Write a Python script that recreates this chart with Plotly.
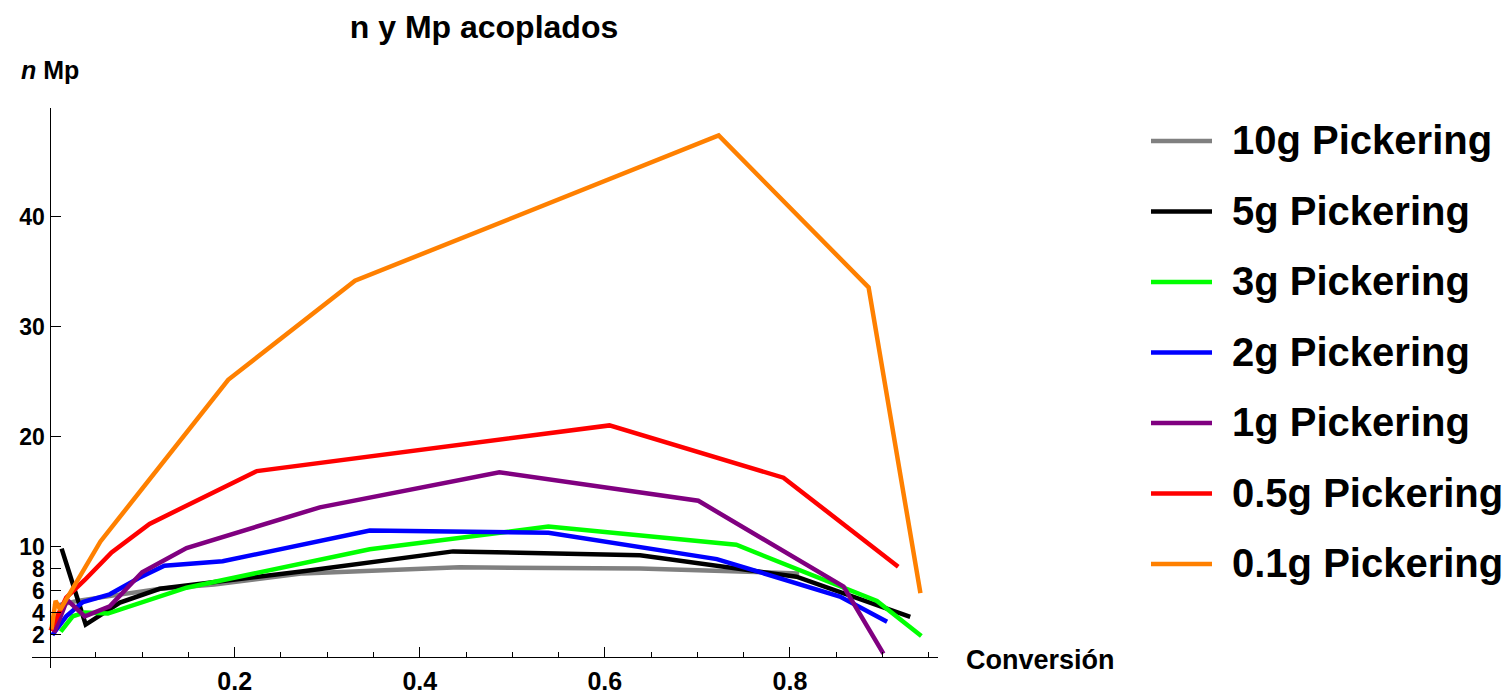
import plotly.graph_objects as go

# ---------------- data ----------------
conv_10g = [0.004, 0.030, 0.070, 0.120, 0.178, 0.274, 0.443, 0.638, 0.810]
nmp_10g = [4.6, 5.1, 5.6, 6.2, 6.6, 7.6, 8.15, 8.05, 7.6]

conv_5g = [0.013, 0.039, 0.076, 0.119, 0.274, 0.436, 0.638, 0.807, 0.930]
nmp_5g = [9.85, 2.95, 4.95, 6.2, 7.8, 9.6, 9.25, 7.3, 3.65]

conv_3g = [0.012, 0.025, 0.038, 0.063, 0.148, 0.346, 0.539, 0.742, 0.894, 0.942]
nmp_3g = [2.3, 3.7, 4.05, 3.95, 6.3, 9.8, 11.85, 10.2, 5.1, 1.9]

conv_2g = [0.003, 0.018, 0.036, 0.065, 0.097, 0.124, 0.187, 0.346, 0.539, 0.721, 0.854, 0.905]
nmp_2g = [2.0, 3.7, 5.0, 5.7, 7.2, 8.3, 8.7, 11.5, 11.3, 8.9, 5.5, 3.2]

conv_1g = [0.005, 0.019, 0.038, 0.065, 0.100, 0.148, 0.292, 0.486, 0.701, 0.858, 0.901]
nmp_1g = [2.2, 5.2, 3.7, 4.6, 7.7, 9.9, 13.6, 16.8, 14.2, 6.4, 0.3]

conv_05g = [0.001, 0.018, 0.038, 0.067, 0.108, 0.224, 0.605, 0.793, 0.917]
nmp_05g = [2.4, 5.4, 7.0, 9.5, 12.1, 16.9, 21.05, 16.3, 8.2]

conv_01g = [0.002, 0.0065, 0.0115, 0.055, 0.193, 0.330, 0.723, 0.885, 0.941]
nmp_01g = [2.5, 5.1, 4.3, 10.5, 25.2, 34.2, 47.4, 33.6, 5.8]

series_names = ["10g Pickering", "5g Pickering", "3g Pickering", "2g Pickering",
                "1g Pickering", "0.5g Pickering", "0.1g Pickering"]
series_x = [conv_10g, conv_5g, conv_3g, conv_2g, conv_1g, conv_05g, conv_01g]
series_y = [nmp_10g, nmp_5g, nmp_3g, nmp_2g, nmp_1g, nmp_05g, nmp_01g]
colors = ["#808080", "#000000", "#00FF00", "#0000FF", "#800080", "#FF0000", "#FF8000"]

x_tick_vals = [0.2, 0.4, 0.6, 0.8]
x_tick_text = ["0.2", "0.4", "0.6", "0.8"]
x_minor_vals = [0.05, 0.1, 0.15, 0.25, 0.3, 0.35, 0.45, 0.5, 0.55, 0.65, 0.7, 0.75, 0.85, 0.9, 0.95]
y_tick_vals = [2, 4, 6, 8, 10, 20, 30, 40]
y_tick_text = ["2", "4", "6", "8", "10", "20", "30", "40"]

# ---------------- layout geometry ----------------
W, H = 1506, 696
ML, MR, MT, MB = 32, 568, 108, 28
PW, PH = W - ML - MR, H - MT - MB
X_RANGE = [-0.019, 0.96]
Y_RANGE = [-1.0, 49.9]
FONT = "Liberation Sans, Arial, sans-serif"


def fx(px):
    return (px - ML) / PW


def fy(py):
    return (H - MB - py) / PH


fig = go.Figure()
for xs, ys, name, col in zip(series_x, series_y, series_names, colors):
    fig.add_trace(go.Scatter(x=xs, y=ys, mode="lines", name=name,
                             line=dict(color=col, width=4.5), showlegend=False))

axis_common = dict(showgrid=False, zeroline=False, showline=True, linecolor="black",
                   linewidth=1.3, ticks="inside", ticklen=10, tickwidth=1.3,
                   tickcolor="black", automargin=False)

fig.update_layout(
    width=W, height=H, template="none",
    paper_bgcolor="white", plot_bgcolor="white",
    margin=dict(l=ML, r=MR, t=MT, b=MB, pad=0),
    showlegend=False,
    title=dict(text="n y Mp acoplados", x=484 / W, xref="container", xanchor="center",
               y=1 - 27 / H, yref="container", yanchor="middle",
               font=dict(family=FONT, size=32, color="black", weight="bold")),
    xaxis=dict(range=X_RANGE, anchor="free",
               position=(0 - Y_RANGE[0]) / (Y_RANGE[1] - Y_RANGE[0]),
               tickmode="array", tickvals=x_tick_vals, ticktext=x_tick_text,
               ticklabelstandoff=2,
               tickfont=dict(family=FONT, size=25, color="black", weight="bold"),
               minor=dict(tickmode="array", tickvals=x_minor_vals, ticks="inside",
                          ticklen=5, tickwidth=1.3, tickcolor="black", showgrid=False),
               **axis_common),
    yaxis=dict(range=Y_RANGE, anchor="free",
               position=(0 - X_RANGE[0]) / (X_RANGE[1] - X_RANGE[0]),
               tickmode="array", tickvals=y_tick_vals, ticktext=y_tick_text,
               tickfont=dict(family=FONT, size=23, color="black", weight="bold"),
               **axis_common),
)

annotations = [
    dict(text="<i>n</i> Mp", x=fx(50), y=fy(70), xref="paper", yref="paper",
         xanchor="center", yanchor="middle", showarrow=False,
         font=dict(family=FONT, size=25, color="black", weight="bold")),
    dict(text="Conversión", x=fx(964), y=fy(660), xref="paper", yref="paper",
         xanchor="left", yanchor="middle", showarrow=False,
         font=dict(family=FONT, size=27, color="black", weight="bold")),
]
shapes = []
legend_rows = [141, 211.5, 282, 352.5, 423, 493.5, 564]
for name, col, py in zip(series_names, colors, legend_rows):
    shapes.append(dict(type="line", xref="paper", yref="paper",
                       x0=fx(1151), x1=fx(1212), y0=fy(py), y1=fy(py),
                       line=dict(color=col, width=4.5)))
    annotations.append(dict(text=name, x=fx(1230), y=fy(py - 1), xref="paper", yref="paper",
                            xanchor="left", yanchor="middle", showarrow=False,
                            font=dict(family=FONT, size=40, color="black", weight="bold")))

fig.update_layout(annotations=annotations, shapes=shapes)
fig.write_html("out.html")
